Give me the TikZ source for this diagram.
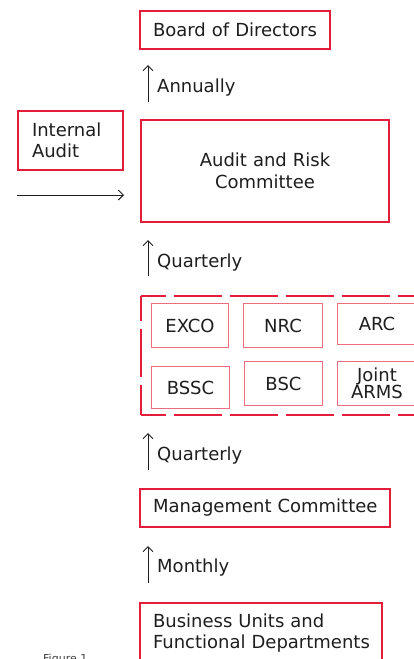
\documentclass[tikz,border=0pt]{standalone}
\usepackage{fontspec}
\setmainfont{DejaVu Sans}
\usetikzlibrary{arrows.meta}
\definecolor{govred}{RGB}{228,30,58}
\definecolor{govink}{RGB}{30,30,30}

\begin{document}
\begin{tikzpicture}[x=1pt, y=-1pt,
    box/.style={draw=govred, line width=2pt, text=govink, inner xsep=13pt, inner ysep=0pt, align=left, font=\fontsize{18}{21.5}\selectfont},
    unit/.style={draw=govred!65, line width=1pt, text=govink, inner sep=0pt, align=center, font=\fontsize{18}{17}\selectfont},
    flow/.style={govink, line width=0.9pt, -{Straight Barb[length=5pt, width=10pt]}},
    freq/.style={anchor=west, text=govink, inner sep=0pt, font=\fontsize{18}{21.5}\selectfont},
    grpline/.style={draw=govred, line width=2pt, dash pattern=on 48pt off 8pt, dash phase=23pt}]
    \useasboundingbox (0,0) rectangle (414,659);

    % Top of the chain
    \node[box, text width=164pt, minimum height=38pt] (board) at (235,29.5) {\mbox{Board of Directors}};
    \coordinate (annS) at (148,102);
    \coordinate (annE) at (148,65);
    \draw[flow] (annS) -- (annE);
    \node[freq] (annually) at (157,88) {Annually};

    % Internal audit feeding the committee
    \node[box, inner xsep=14pt, text width=77pt, minimum height=59pt] (audit) at (70.5,140.5) {Internal\\Audit};
    \node[box, align=center, text width=222pt, minimum height=102pt] (arc) at (265,171) {Audit and Risk\\Committee};
    \coordinate (iaS) at (17,195);
    \coordinate (iaE) at (124,195);
    \draw[flow] (iaS) -- (iaE);

    \coordinate (q1S) at (148,276);
    \coordinate (q1E) at (148,240);
    \draw[flow] (q1S) -- (q1E);
    \node[freq] (quarterlyA) at (157,263) {Quarterly};

    % Board committees group
    \node[minimum width=278pt, minimum height=118pt, inner sep=0pt] (group) at (280,355.5) {};
    \draw[grpline] (group.north west) -- (group.north east);
    \draw[grpline] (group.north west) -- (group.south west);
    \draw[grpline] (group.south west) -- (group.south east);

    \node[unit, minimum width=77pt, minimum height=44pt] (exco) at (190,325.5) {EXCO};
    \node[unit, minimum width=79pt, minimum height=44pt] (nrc) at (283,325.5) {NRC};
    \node[unit, minimum width=79pt, minimum height=41pt] (arcs) at (377,324) {ARC};
    \node[unit, minimum width=78pt, minimum height=42pt] (bssc) at (190.5,387.5) {BSSC};
    \node[unit, minimum width=78pt, minimum height=44pt] (bsc) at (283.5,383.5) {BSC};
    \node[unit, minimum width=79pt, minimum height=44pt] (arms) at (377,383.5) {Joint\\ARMS};

    \coordinate (q2S) at (148,470);
    \coordinate (q2E) at (148,433);
    \draw[flow] (q2S) -- (q2E);
    \node[freq] (quarterlyB) at (157,456) {Quarterly};

    % Management level
    \node[box, text width=224pt, minimum height=38pt] (mgmt) at (265,508) {\mbox{Management Committee}};
    \coordinate (monS) at (148,583);
    \coordinate (monE) at (148,546);
    \draw[flow] (monS) -- (monE);
    \node[freq] (monthly) at (157,568) {Monthly};

    \node[box, text width=216pt, minimum height=60pt] (units) at (261,633) {\mbox{Business Units and}\\\mbox{Functional Departments}};

    % Caption
    \node[anchor=base west, inner sep=0pt, text=govink!85, font=\fontsize{11}{13}\selectfont] (caption) at (43,662) {Figure 1};
\end{tikzpicture}
\end{document}
